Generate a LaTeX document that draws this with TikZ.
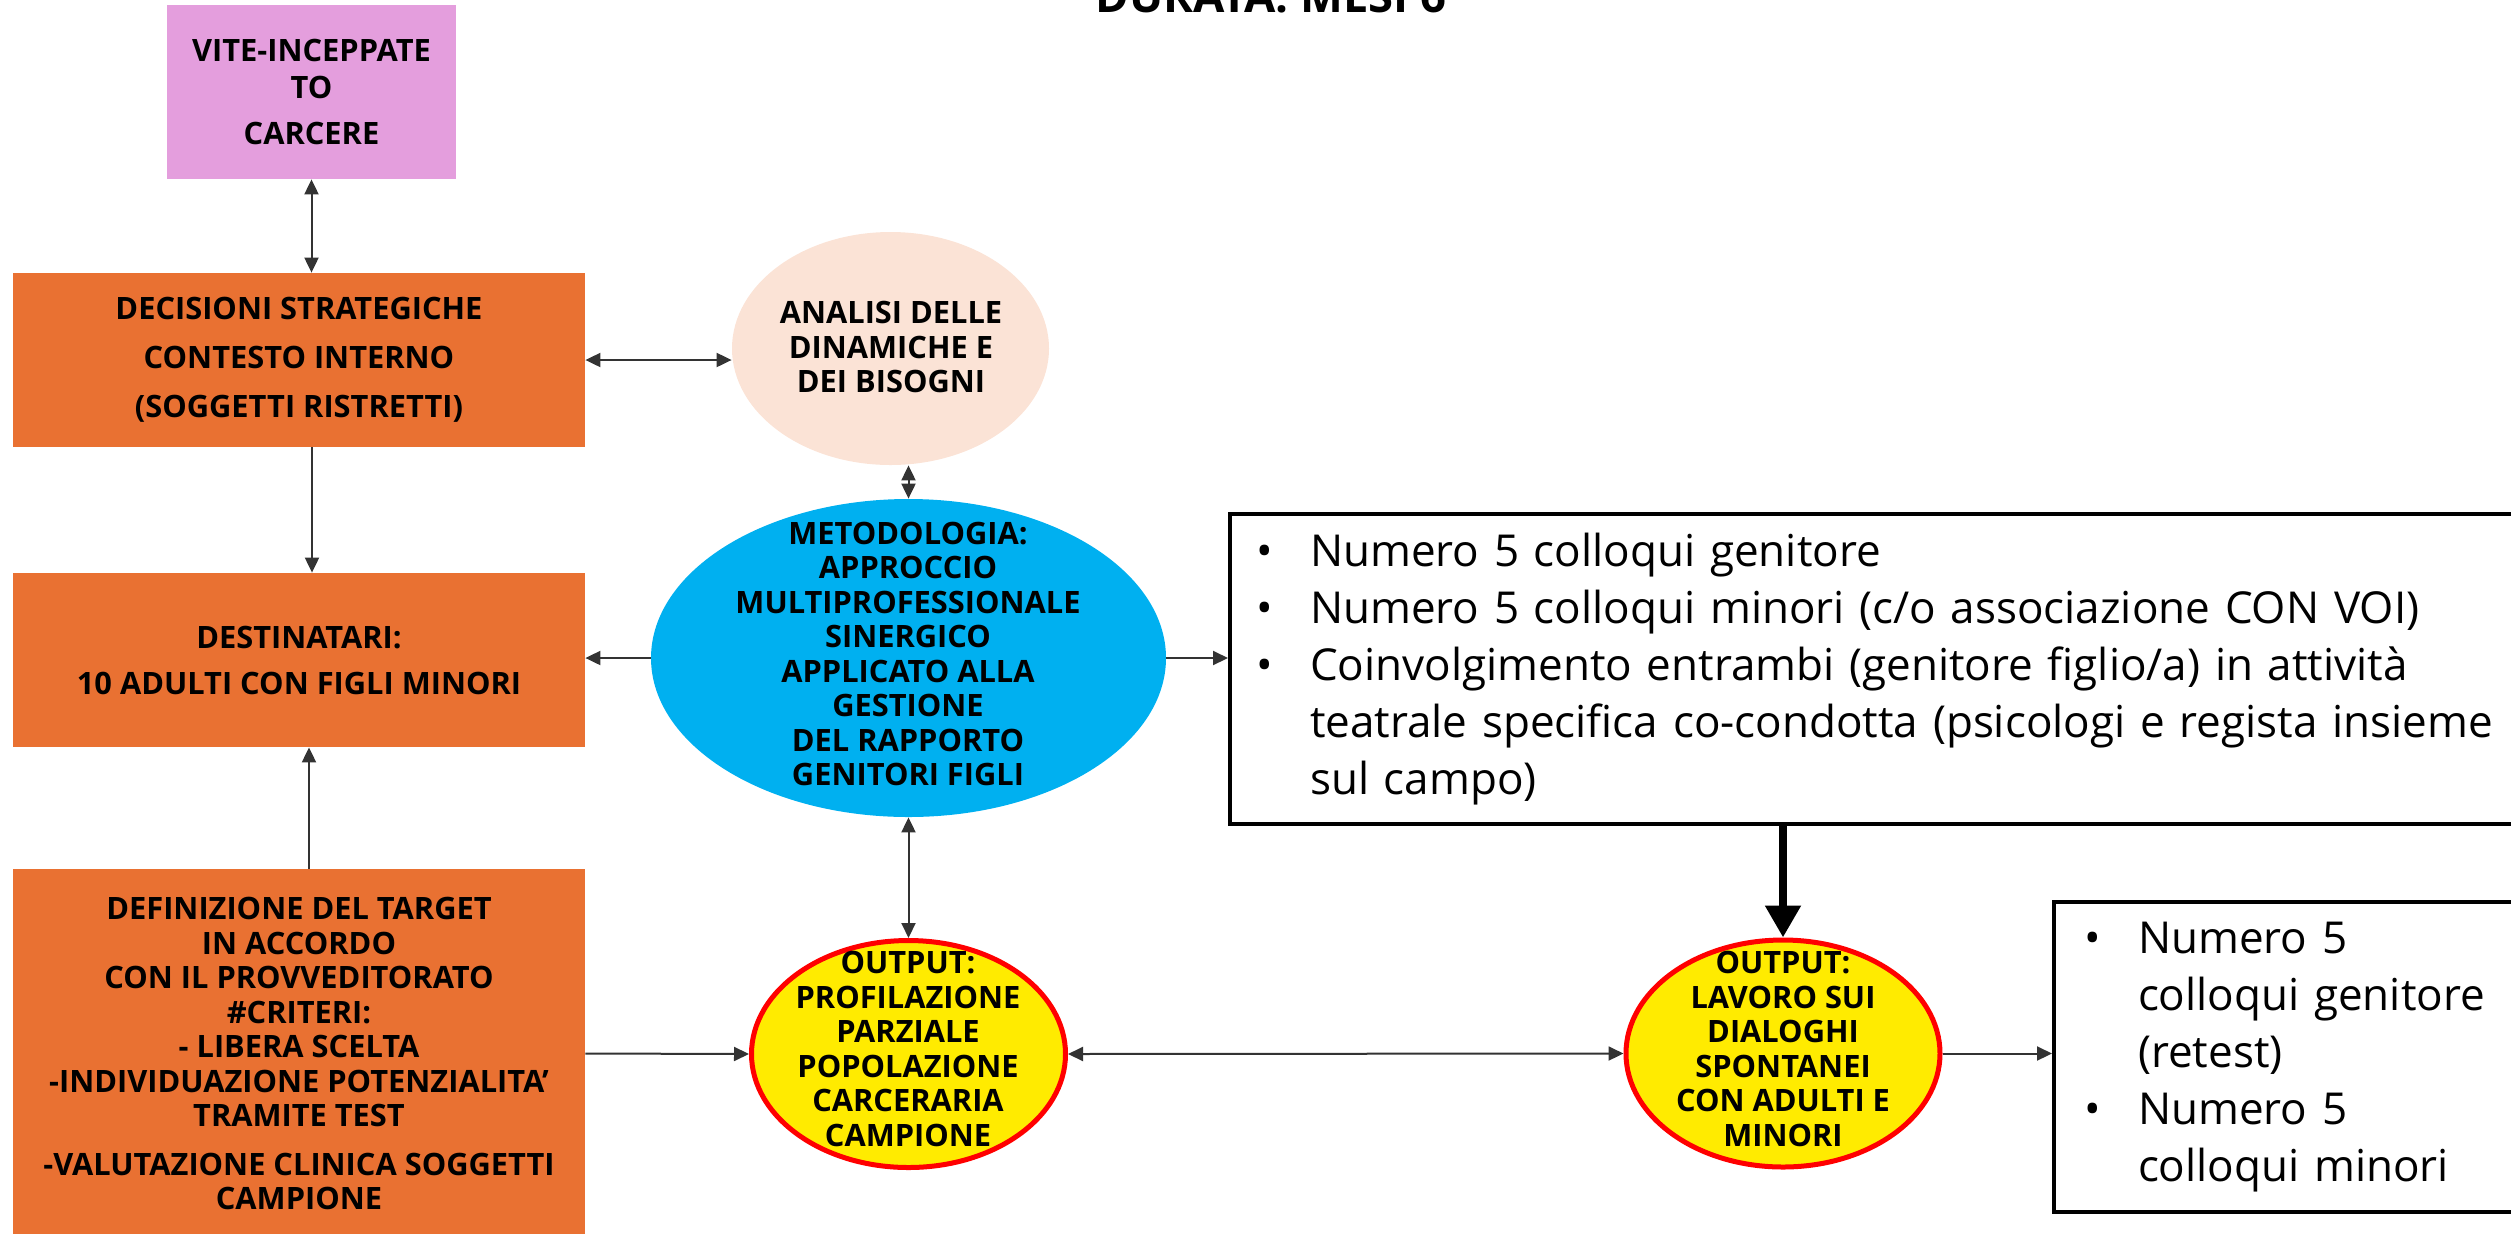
\documentclass[tikz,border=0pt]{standalone}
\usepackage{fontspec}
\setmainfont{Open Sans}
\usetikzlibrary{shapes.geometric,arrows.meta}

\definecolor{boxorange}{HTML}{E97132}
\definecolor{boxpink}{HTML}{E49EDD}
\definecolor{peach}{HTML}{FBE3D6}
\definecolor{skyblue}{HTML}{00B0F0}
\definecolor{outyellow}{HTML}{FFEB00}
\definecolor{outred}{HTML}{FF0000}

\newcommand{\bitem}{\makebox[27pt][l]{\textbullet}}
\newcommand{\bindent}{\hspace*{27pt}}

\begin{document}
\begin{tikzpicture}[x=0.5pt, y=-0.5pt,
    every node/.style={font=\fontsize{15.4}{17.25}\selectfont\bfseries, align=center},
    box/.style={fill=boxorange, minimum width=286pt, minimum height=87pt, inner sep=0pt},
    oval/.style={ellipse, inner sep=0pt},
    output/.style={ellipse, draw=outred, line width=2.5pt, fill=outyellow, minimum width=157pt, minimum height=113.5pt, inner sep=0pt},
    listbox/.style={draw, line width=2pt, anchor=north west, align=left, minimum height=155pt, inner ysep=0pt, font=\fontsize{22}{28.5}\selectfont},
    arr/.style={line width=1pt, black!80, -{Triangle[length=7.5pt,width=7pt]}},
    biarr/.style={line width=1pt, black!80, {Triangle[length=7.5pt,width=7pt]}-{Triangle[length=7.5pt,width=7pt]}},
    bigarr/.style={line width=4pt, -{Triangle[length=16pt,width=17pt]}}
]
    \useasboundingbox (0,0) rectangle (2511,1233);

    % Title
    \node[font=\fontsize{22.7}{27}\selectfont\bfseries, anchor=base] (title) at (1271,12) {DURATA: MESI 6};

    % Left column
    \node[box, fill=boxpink, minimum width=144.5pt, font=\fontsize{15.4}{18.5}\selectfont\bfseries] (vite) at (311.5,92) {VITE-INCEPPATE\\TO\\[4.5pt]CARCERE};
    \node[box, font=\fontsize{15.4}{24.5}\selectfont\bfseries] (decisioni) at (299,360) {DECISIONI STRATEGICHE\\CONTESTO INTERNO\\(SOGGETTI RISTRETTI)};
    \node[box, font=\fontsize{15.4}{23}\selectfont\bfseries] (destinatari) at (299,660) {DESTINATARI:\\10 ADULTI CON FIGLI MINORI};
    \node[box, minimum height=184.5pt] (target) at (299,1053.5) {DEFINIZIONE DEL TARGET\\IN ACCORDO\\CON IL PROVVEDITORATO\\\#CRITERI:\\- LIBERA SCELTA\\-INDIVIDUAZIONE POTENZIALITA’\\TRAMITE TEST\\[7pt]-VALUTAZIONE CLINICA SOGGETTI\\CAMPIONE};

    % Middle column
    \node[oval, fill=peach, minimum width=158.5pt, minimum height=116.5pt] (analisi) at (890.5,348.5) {};
    \node (analisitxt) at (891,347) {ANALISI DELLE\\DINAMICHE E\\DEI BISOGNI};
    \node[oval, fill=skyblue, minimum width=257.5pt, minimum height=159pt] (metodo) at (908.5,658) {};
    \node (metodotxt) at (908,654) {METODOLOGIA:\\APPROCCIO\\MULTIPROFESSIONALE\\SINERGICO\\APPLICATO ALLA\\GESTIONE\\DEL RAPPORTO\\GENITORI FIGLI};
    \node[output] (profilo) at (908.5,1054) {};
    \node (profilotxt) at (908,1049) {OUTPUT:\\PROFILAZIONE\\PARZIALE\\POPOLAZIONE\\CARCERARIA\\CAMPIONE};

    % Right side
    \node[listbox, minimum width=656pt, inner xsep=13pt, text width=630pt] (colloqui) at (1228,512) {\bitem Numero 5 colloqui genitore\\\bitem Numero 5 colloqui minori (c/o associazione CON VOI)\\\bitem Coinvolgimento entrambi (genitore figlio/a) in attività\\\bindent teatrale specifica co-condotta (psicologi e regista insieme\\\bindent sul campo)};
    \node[output] (dialoghi) at (1783,1053.5) {};
    \node (dialoghitxt) at (1783,1049) {OUTPUT:\\LAVORO SUI\\DIALOGHI\\SPONTANEI\\CON ADULTI E\\MINORI};
    \node[listbox, minimum width=244pt, inner xsep=15pt, text width=214pt] (retest) at (2052,900) {\bitem Numero 5\\\bindent colloqui genitore\\\bindent (retest)\\\bitem Numero 5\\\bindent colloqui minori};

    % Arrows
    \draw[biarr] (vite.south) -- (vite.south |- decisioni.north);
    \draw[biarr] (decisioni.east) -- (decisioni.east -| analisi.west);
    \draw[arr] ([xshift=6.5pt]decisioni.south) -- ([xshift=6.5pt]destinatari.north);
    \draw[arr] ([xshift=5pt]target.north) -- ([xshift=5pt]destinatari.south);
    \draw[biarr] (metodo.north) -- (metodo.north |- analisi.south);
    \draw[arr] (metodo.west) -- (metodo.west -| destinatari.east);
    \draw[arr] (metodo.east) -- (metodo.east -| colloqui.west);
    \draw[biarr] (metodo.south) -- (profilo.north);
    \draw[arr] (target.east) -- (profilo.west);
    \draw[biarr] (profilo.east) -- (dialoghi.west);
    \draw[bigarr] (dialoghi.north |- colloqui.south) -- (dialoghi.north);
    \draw[arr] (dialoghi.east) -- (dialoghi.east -| retest.west);
\end{tikzpicture}
\end{document}
